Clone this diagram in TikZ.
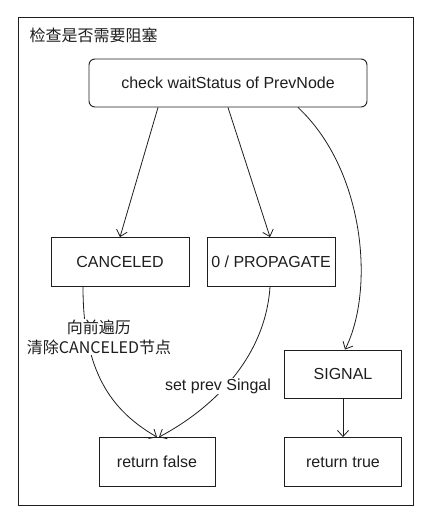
\documentclass[tikz,border=0pt]{standalone}
\usepackage{fontspec}
\setmainfont{Liberation Sans}
\newfontfamily\cjk{Noto Sans CJK SC}
\usetikzlibrary{arrows.meta}
\definecolor{ink}{HTML}{1E1E1E}

\begin{document}
\begin{tikzpicture}[x=1pt,y=-1pt,
  box/.style={draw=ink,line width=0.9pt,minimum height=49pt,inner sep=0pt,text=ink,font=\fontsize{16}{19}\selectfont},
  flow/.style={draw=ink,line width=0.8pt,-{Straight Barb[length=6pt,width=11pt]}},
  lbl/.style={fill=white,inner sep=1pt,text=ink,align=center}]
\useasboundingbox (0,0) rectangle (435,531);
 \draw[ink,line width=0.9pt] (18,17) rectangle (413,505);
 \node[anchor=west,text=ink,font=\cjk\fontsize{16}{19}\selectfont] (title) at (26,35) {检查是否需要阻塞};

 \node[box,rounded corners=6pt,minimum width=278pt,minimum height=48pt] (check) at (228,83) {check waitStatus of PrevNode};
 \node[box,minimum width=138pt] (canceled) at (120,262) {CANCELED};
 \node[box,minimum width=128pt] (propagate) at (271,262) {0 / PROPAGATE};
 \node[box,minimum width=117pt,minimum height=48pt] (signal) at (343,374) {SIGNAL};
 \node[box,minimum width=116pt] (retfalse) at (157,462) {return false};
 \node[box,minimum width=117pt] (rettrue) at (343,462) {return true};

  \draw[flow] ([xshift=-70pt]check.south) -- (canceled.north);
  \draw[flow] (check.south) -- ([xshift=-1pt]propagate.north);
  \draw[flow] ([xshift=70pt]check.south) .. controls (365,170) and (375,290) .. ([xshift=2pt]signal.north);
  \draw[flow] ([xshift=-37pt]canceled.south) .. controls (83,370) and (110,410) .. (retfalse.north);
  \draw[flow] ([xshift=-1pt]propagate.south) .. controls (265,360) and (210,410) .. ([xshift=2pt]retfalse.north);
  \draw[flow] (signal) -- (rettrue);

 \node[lbl,font=\cjk\fontsize{16}{20}\selectfont] (cleanlbl) at (99,337) {向前遍历\\清除CANCELED节点};
 \node[lbl,font=\fontsize{16}{19}\selectfont] (setlbl) at (218,386) {set prev Singal};
\end{tikzpicture}
\end{document}
